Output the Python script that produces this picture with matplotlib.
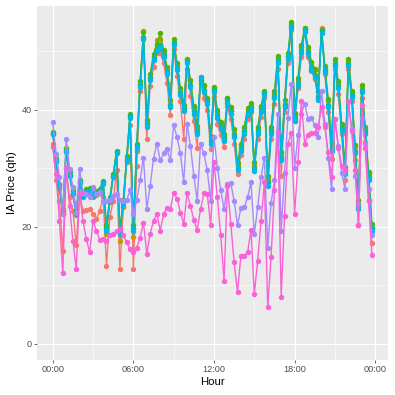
import matplotlib
matplotlib.use("Agg")
import matplotlib.pyplot as plt
import numpy as np

# quarter-hour slots, hours from midnight
hours = [i * 0.25 for i in range(96)]

red = [34.2, 28.0, 24.4, 15.9, 30.0, 25.0, 22.7, 16.8, 25.6, 22.7, 22.9, 23.0,
       22.2, 21.3, 22.7, 25.0, 13.3, 21.6, 24.4, 29.6, 12.8, 23.3, 31.0, 37.3,
       12.8, 30.4, 43.2, 52.1, 35.0, 44.0, 47.2, 49.6, 49.6, 48.0, 44.6, 39.0,
       50.4, 45.8, 41.4, 35.0, 47.0, 42.4, 38.0, 33.5, 44.6, 42.0, 40.0, 33.2,
       42.4, 37.6, 35.6, 33.6, 40.6, 38.4, 34.2, 29.0, 32.2, 35.0, 38.4, 39.6,
       30.2, 35.0, 38.8, 42.0, 27.6, 35.0, 41.0, 47.0, 28.7, 39.6, 48.0, 53.6,
       38.0, 43.6, 49.0, 53.8, 49.0, 46.6, 45.2, 42.4, 54.0, 46.0, 39.6, 31.6,
       47.0, 42.6, 35.8, 28.0, 47.0, 41.4, 31.4, 20.2, 42.0, 34.4, 24.6, 17.2]

gold = [35.9, 31.2, 26.5, 22.4, 33.2, 28.8, 25.5, 22.0, 27.8, 25.2, 25.6, 25.7,
        25.0, 25.4, 25.8, 27.5, 18.8, 24.2, 28.6, 32.8, 17.6, 23.4, 31.0, 38.8,
        18.2, 33.0, 44.4, 53.5, 37.8, 45.6, 49.0, 51.8, 52.0, 49.8, 47.0, 41.0,
        51.6, 47.6, 43.2, 40.0, 48.4, 44.8, 40.2, 36.6, 44.8, 44.0, 41.8, 35.0,
        43.6, 39.6, 37.4, 35.4, 42.0, 40.0, 36.0, 30.4, 33.8, 36.8, 40.0, 40.8,
        30.6, 36.6, 40.2, 43.0, 28.2, 36.6, 42.6, 48.8, 32.2, 41.0, 49.0, 54.6,
        39.0, 45.0, 50.6, 54.0, 50.2, 48.0, 46.8, 43.0, 53.8, 47.0, 41.4, 34.0,
        48.2, 44.4, 37.2, 29.8, 48.2, 42.8, 33.6, 24.0, 43.8, 36.6, 29.0, 19.8]

green = [36.2, 31.8, 27.2, 23.0, 33.4, 29.3, 26.2, 22.8, 28.0, 25.8, 26.4, 26.6,
         25.8, 26.1, 26.5, 27.8, 20.2, 25.0, 29.0, 33.0, 19.6, 24.6, 32.0, 39.2,
         20.2, 34.2, 44.8, 53.2, 38.2, 46.0, 49.5, 51.2, 53.0, 50.2, 47.2, 41.6,
         52.0, 48.0, 43.6, 40.8, 48.6, 45.0, 40.6, 37.2, 45.6, 44.2, 42.0, 35.4,
         43.8, 40.0, 37.8, 35.9, 42.0, 40.4, 36.6, 30.8, 34.2, 37.0, 40.2, 41.2,
         31.0, 37.0, 40.6, 43.2, 28.6, 37.0, 43.2, 49.2, 32.8, 41.6, 49.6, 55.0,
         39.4, 45.4, 51.0, 54.0, 50.6, 48.2, 47.0, 43.2, 53.6, 47.4, 41.8, 34.4,
         48.6, 44.8, 37.6, 30.2, 48.6, 43.2, 34.0, 24.6, 44.2, 37.0, 29.4, 20.4]

teal = [35.8, 31.4, 26.9, 22.6, 32.8, 28.9, 25.8, 22.5, 27.4, 25.3, 26.1, 26.3,
        25.5, 25.8, 26.2, 27.6, 19.8, 24.7, 28.7, 32.8, 19.2, 24.2, 31.6, 38.9,
        19.7, 33.8, 44.2, 52.4, 37.5, 45.4, 48.8, 50.4, 51.0, 49.4, 46.4, 40.8,
        51.3, 47.1, 42.9, 40.2, 48.3, 44.2, 39.7, 36.3, 45.0, 43.4, 41.4, 34.6,
        43.4, 39.0, 37.1, 35.1, 41.6, 39.7, 35.7, 30.1, 33.4, 36.3, 39.4, 40.4,
        30.0, 36.3, 39.9, 42.9, 27.6, 36.3, 42.3, 48.5, 31.8, 40.8, 49.2, 54.3,
        38.6, 44.5, 50.1, 53.6, 49.9, 47.2, 45.9, 42.2, 53.4, 46.8, 40.8, 33.5,
        47.8, 44.0, 36.8, 29.5, 47.8, 42.5, 33.0, 23.6, 43.4, 36.3, 28.4, 19.8]

cyan = [36.0, 31.0, 26.7, 22.2, 33.0, 28.7, 25.6, 22.2, 27.6, 25.0, 25.9, 26.0,
        25.3, 25.6, 25.9, 27.3, 19.3, 24.4, 28.4, 32.5, 18.8, 23.9, 31.3, 38.6,
        19.3, 33.5, 43.8, 52.0, 37.0, 45.0, 48.4, 50.0, 50.5, 49.0, 46.0, 40.4,
        51.0, 46.7, 42.5, 39.8, 48.0, 43.8, 39.3, 35.9, 45.5, 43.0, 41.0, 34.2,
        43.0, 38.6, 36.7, 34.7, 41.2, 39.3, 35.3, 29.6, 33.0, 35.9, 39.0, 40.0,
        29.5, 35.9, 39.5, 42.5, 27.0, 35.9, 41.9, 48.0, 31.3, 40.4, 48.7, 54.0,
        38.1, 44.1, 49.7, 53.3, 49.5, 46.7, 45.5, 41.7, 53.0, 46.4, 40.4, 33.0,
        47.5, 43.6, 36.4, 29.0, 47.5, 42.1, 32.5, 23.0, 43.0, 35.9, 27.9, 19.3]

purple = [37.8, 32.4, 28.4, 22.2, 34.9, 29.9, 26.7, 22.4, 29.9, 25.8, 25.6, 25.0,
          26.7, 25.6, 25.9, 24.4, 24.4, 24.6, 25.3, 25.6, 24.5, 24.4, 24.5, 26.2,
          22.2, 24.5, 27.9, 31.8, 23.0, 27.0, 31.6, 34.2, 31.3, 32.5, 33.3, 31.3,
          37.3, 35.3, 32.5, 27.6, 37.6, 33.7, 28.7, 24.4, 34.2, 32.5, 29.6, 24.4,
          35.3, 30.1, 26.2, 23.0, 27.3, 27.4, 24.4, 20.2, 23.2, 23.3, 25.0, 27.6,
          18.8, 23.3, 28.4, 31.8, 16.4, 24.1, 27.9, 39.3, 19.3, 29.2, 38.6, 44.4,
          30.1, 35.6, 39.3, 41.0, 38.4, 38.6, 37.3, 35.3, 43.2, 37.6, 31.8, 26.4,
          38.4, 33.8, 29.2, 26.4, 41.3, 36.7, 28.7, 23.9, 38.6, 34.2, 26.4, 18.5]

pink = [33.6, 29.0, 21.0, 12.1, 30.0, 23.6, 17.6, 12.8, 25.8, 21.0, 17.9, 15.6,
        21.0, 19.3, 17.7, 17.9, 17.6, 18.5, 18.8, 19.3, 19.6, 18.5, 17.3, 16.2,
        15.6, 16.4, 18.1, 20.7, 15.4, 18.8, 21.0, 22.2, 19.3, 22.2, 23.2, 23.0,
        25.8, 24.8, 22.4, 20.5, 25.7, 23.5, 21.2, 19.4, 23.0, 25.7, 25.6, 20.2,
        31.0, 25.0, 18.5, 10.8, 27.0, 20.5, 13.9, 8.8, 15.0, 15.0, 15.6, 19.4,
        8.5, 14.2, 20.9, 27.6, 6.2, 14.9, 26.2, 36.1, 8.0, 21.9, 34.2, 36.0,
        22.2, 31.0, 41.5, 34.2, 35.6, 36.0, 36.0, 37.0, 40.4, 37.0, 32.7, 28.4,
        38.4, 33.5, 30.4, 29.6, 41.5, 36.4, 29.6, 20.2, 40.7, 33.5, 24.4, 15.2]

series = [red, gold, green, teal, cyan, purple, pink]
colors = ["#F8766D", "#C49A00", "#53B400", "#00C094", "#00B6EB", "#A58AFF", "#FB61D7"]

x_ticks = [0, 6, 12, 18, 24]
x_labels = ["00:00", "06:00", "12:00", "18:00", "00:00"]
y_ticks = [0, 20, 40]

plt.rcParams['font.family'] = ['Liberation Sans', 'DejaVu Sans']

fig = plt.figure(figsize=(3.95, 3.95), dpi=100)
ax = fig.add_axes([0.093, 0.089, 0.889, 0.896])
ax.set_facecolor("#EBEBEB")

for vals, col in zip(series, colors):
    ax.plot(hours, vals, color=col, lw=1.0, marker="o", ms=3.9, mew=0)

ax.set_xlim(-1.19, 24.94)
ax.set_ylim(-2.75, 57.7)
ax.set_xticks(x_ticks)
ax.set_xticklabels(x_labels)
ax.set_yticks(y_ticks)
ax.set_xticks([3, 9, 15, 21], minor=True)
ax.set_yticks([10, 30, 50], minor=True)
ax.grid(which="major", color="white", lw=0.8)
ax.grid(which="minor", color="white", lw=0.4)
ax.set_axisbelow(True)
for s in ax.spines.values():
    s.set_visible(False)
ax.tick_params(which="major", length=2.0, width=0.5, color="#333333",
               labelsize=6.6, labelcolor="#4D4D4D", pad=1.8)
ax.tick_params(which="minor", length=0)

ax.set_xlabel("Hour", fontsize=8.2, labelpad=2)
ax.set_ylabel("IA Price (qh)", fontsize=8.2, labelpad=3)

fig.savefig("out.png", dpi=100)
